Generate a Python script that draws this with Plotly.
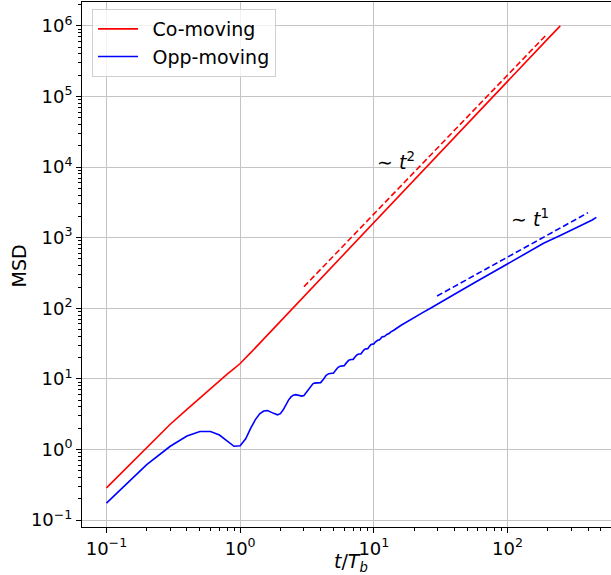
import numpy as np
import plotly.graph_objects as go

# Mean squared displacement vs. time (in units of the bounce period T_b)
t_co = [0.1, 0.2, 0.3, 0.4, 0.5, 0.6, 0.7, 0.8, 0.9, 1.0, 1.2, 1.4, 1.6, 1.8,
        2.0, 2.4, 3.0, 4.0, 5.0, 7.0, 10, 15, 24, 35, 50, 70, 100, 150, 200, 248]
msd_co = [0.286, 1.08, 2.28, 3.7, 5.4, 7.35, 9.6, 11.7, 14.0, 16.5, 23.5, 32,
          42, 53, 65.5, 94, 148, 265, 415, 815, 1670, 3760, 9650, 20400, 41500,
          81500, 165000, 372000, 655000, 1000000]

t_opp = [0.1, 0.2, 0.3, 0.4, 0.5, 0.6, 0.7, 0.8, 0.9, 1.0,
         1.1, 1.2, 1.3, 1.4, 1.5, 1.6, 1.7, 1.8, 1.9, 2.0,
         2.1, 2.2, 2.3, 2.4, 2.5, 2.6, 2.7, 2.8, 2.9, 3.0,
         3.1, 3.2, 3.3, 3.4, 3.5, 3.6, 3.7, 3.8, 3.9, 4.0,
         4.2, 4.4, 4.6, 4.8, 5.0, 5.2, 5.4, 5.6, 5.8, 6.0,
         6.25, 6.5, 6.75, 7.0, 7.25, 7.5, 7.75, 8.0, 8.25, 8.5, 8.75, 9.0,
         9.25, 9.5, 9.75, 10.0, 10.25, 10.5, 10.75, 11.0, 11.25, 11.5, 11.75,
         12.0, 12.5, 13, 13.5, 14, 16, 18, 20, 23, 26.5, 30, 35, 44.5, 60, 80,
         100, 140, 186, 250, 300, 394, 430, 462]
msd_opp = [0.174, 0.61, 1.11, 1.55, 1.80, 1.80, 1.60, 1.33, 1.11, 1.13,
           1.42, 2.0, 2.65, 3.2, 3.5, 3.55, 3.42, 3.22, 3.10, 3.22,
           3.65, 4.3, 5.0, 5.55, 5.88, 5.98, 5.92, 5.78, 5.70, 5.80,
           6.3, 6.9, 7.5, 8.1, 8.5, 8.72, 8.75, 8.7, 8.68, 8.85,
           9.9, 11.2, 11.85, 11.9, 12.1, 13.4, 14.6, 15.1, 15.15, 15.4,
           16.98, 18.4, 18.83, 18.9, 20.57, 22.05, 22.53, 22.6, 24.45, 26.09, 26.62, 26.7,
           28.73, 30.53, 31.11, 31.2, 33.18, 34.94, 35.51, 35.6, 37.49, 39.17, 39.72,
           39.8, 42.5, 44, 46.8, 48.5, 57.5, 66, 74, 86, 100, 114, 134, 177, 245, 335,
           425, 612, 832, 1080, 1270, 1622, 1780, 1940]

# Power-law guide lines
t_guide2 = [3.0, 195]
msd_guide2 = [202, 746000]
t_guide1 = [29.7, 400]
msd_guide1 = [149, 2260]

x_ticks = [0.1, 1, 10, 100]
x_ticktext = ["10<sup>\u22121</sup>", "10<sup>0</sup>", "10<sup>1</sup>", "10<sup>2</sup>"]
y_ticks = [0.1, 1, 10, 100, 1e3, 1e4, 1e5, 1e6]
y_ticktext = ["10<sup>\u22121</sup>", "10<sup>0</sup>", "10<sup>1</sup>", "10<sup>2</sup>",
              "10<sup>3</sup>", "10<sup>4</sup>", "10<sup>5</sup>", "10<sup>6</sup>"]

FONT = "DejaVu Sans"
GAP = "\u2002"  # spacing between legend line sample and label

fig = go.Figure()
fig.add_trace(go.Scatter(x=t_co, y=msd_co, mode="lines", name=GAP + "Co-moving",
                         line=dict(color="red", width=1.6)))
fig.add_trace(go.Scatter(x=t_opp, y=msd_opp, mode="lines", name=GAP + "Opp-moving",
                         line=dict(color="blue", width=1.6)))
fig.add_trace(go.Scatter(x=t_guide2, y=msd_guide2, mode="lines", showlegend=False,
                         line=dict(color="red", width=1.6, dash="6px,3px")))
fig.add_trace(go.Scatter(x=t_guide1, y=msd_guide1, mode="lines", showlegend=False,
                         line=dict(color="blue", width=1.6, dash="6px,3px")))

def minor_vals(lo, hi):
    vals = []
    for e in range(lo, hi):
        for k in range(2, 10):
            vals.append(k * 10.0 ** e)
    return vals

axis_common = dict(
    type="log", showline=True, linecolor="black", linewidth=1,
    ticks="outside", ticklen=5, tickcolor="black", tickwidth=1,
    showgrid=True, gridcolor="#c4c4c4", gridwidth=1, zeroline=False,
    tickfont=dict(family=FONT, size=18, color="black"),
    tickmode="array",
)

fig.update_xaxes(range=[-1.183, 2.774], tickvals=x_ticks, ticktext=x_ticktext,
                 mirror=True,
                 minor=dict(tickvals=minor_vals(-1, 3), ticks="outside", ticklen=3,
                            tickcolor="black", showgrid=False),
                 **axis_common)
fig.update_yaxes(range=[-1.098, 6.338], tickvals=y_ticks, ticktext=y_ticktext,
                 mirror=False,
                 minor=dict(tickvals=minor_vals(-1, 7), ticks="outside", ticklen=3,
                            tickcolor="black", showgrid=False),
                 **axis_common)

fig.add_annotation(x=1.167, y=4.087, xref="x", yref="y", showarrow=False,
                   text="\u223c <i>t</i><sup>2</sup>",
                   font=dict(family=FONT, size=19, color="black"))
fig.add_annotation(x=2.169, y=3.279, xref="x", yref="y", showarrow=False,
                   text="\u223c <i>t</i><sup>1</sup>",
                   font=dict(family=FONT, size=19, color="black"))

# Axis titles
fig.add_annotation(x=(351 - 82) / 529, y=-(562 - 527) / 525, xref="paper", yref="paper",
                   showarrow=False, text="<i>t</i>/<i>T<sub>b</sub></i>",
                   font=dict(family=FONT, size=19, color="black"),
                   xanchor="center", yanchor="middle")
fig.add_annotation(x=-(82 - 18.5) / 529, y=1 - (266 - 2) / 525, xref="paper", yref="paper",
                   showarrow=False, text="MSD", textangle=-90,
                   font=dict(family=FONT, size=19, color="black"),
                   xanchor="center", yanchor="middle")

fig.update_layout(
    width=611, height=575,
    margin=dict(l=82, r=0, t=2, b=48, autoexpand=False),
    paper_bgcolor="white", plot_bgcolor="white",
    font=dict(family=FONT, color="black"),
    showlegend=True,
    legend=dict(x=(92 - 82) / 529, y=1 - (9 - 2) / 525, xanchor="left", yanchor="top",
                bgcolor="rgba(255,255,255,0.8)", bordercolor="#d0d0d0", borderwidth=1,
                font=dict(family=FONT, size=19, color="black"),
                itemwidth=40),
)

fig.write_html("out.html")
